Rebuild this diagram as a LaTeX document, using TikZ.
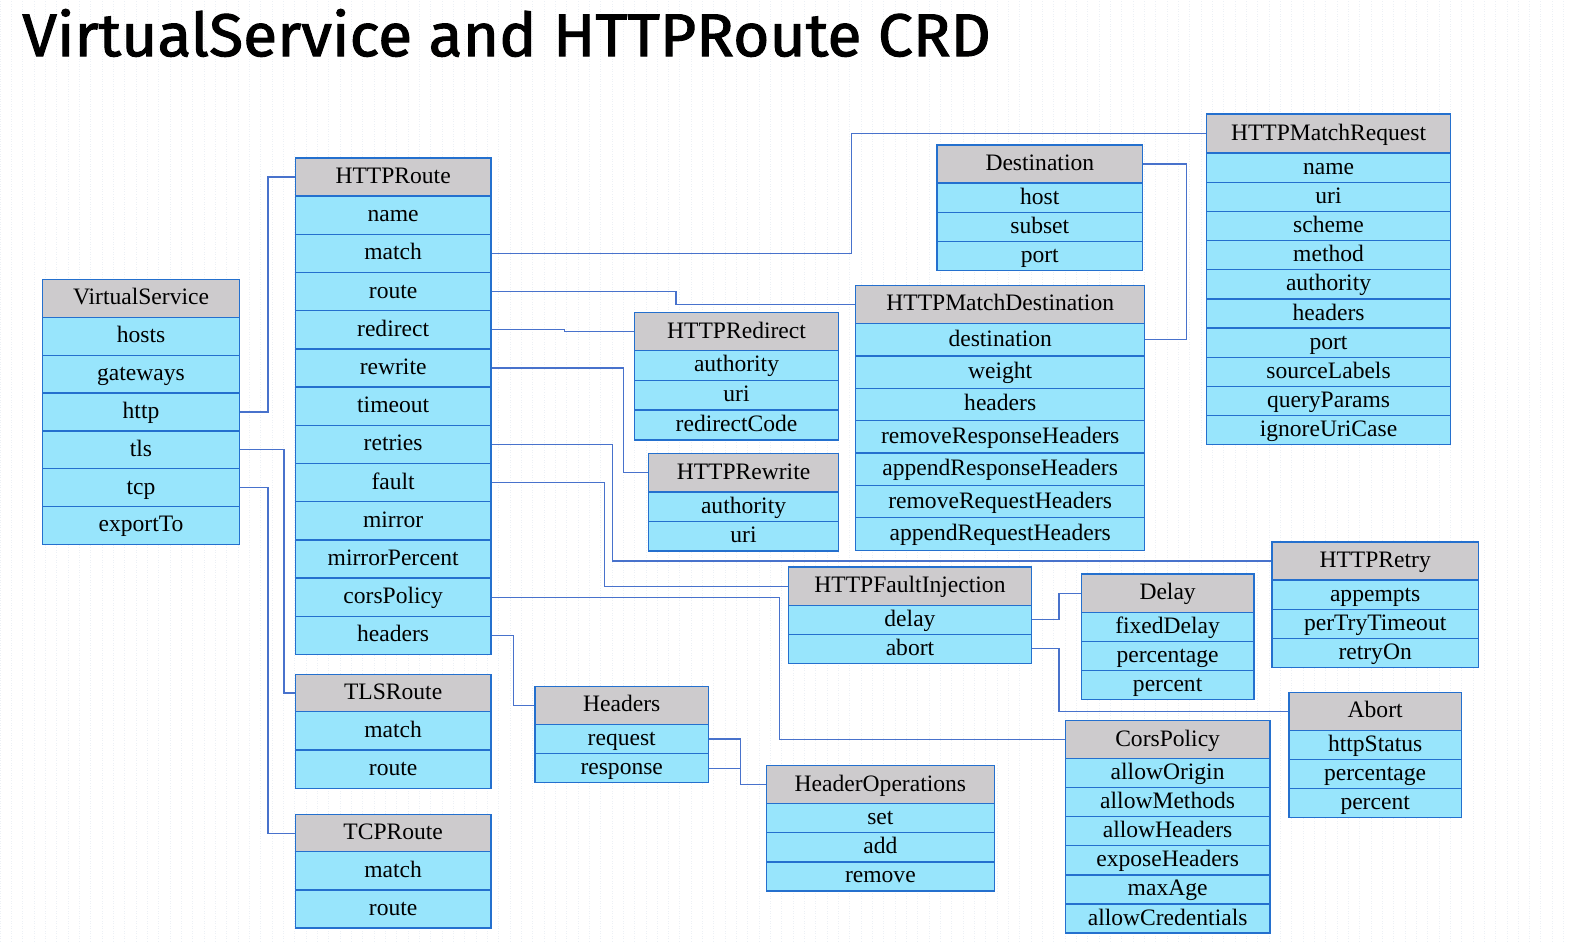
\documentclass[tikz,border=0pt]{standalone}
\usepackage{fontspec}
\setmainfont{Liberation Serif}
\newfontfamily\titlefont[FakeBold=1.6]{Fira Sans}
\usetikzlibrary{calc}
\definecolor{cyanc}{RGB}{152,229,252}
\definecolor{grayc}{RGB}{205,203,205}
\definecolor{bordc}{RGB}{36,112,206}
\definecolor{connc}{RGB}{72,114,204}
\definecolor{gridc}{RGB}{236,240,245}
\tikzset{
  cell/.style={draw=bordc, line width=1.3pt, inner sep=0pt, anchor=north west,
    text height=17pt, text depth=4pt, font=\fontsize{23.5}{24}\selectfont},
  fld/.style={cell, fill=cyanc},
  hdr/.style={cell, fill=grayc},
  conn/.style={draw=connc, line width=1.2pt}
}
% #1 id, #2 x, #3 width, #4 top, #5 header height, #6 row height, #7 header, #8 rows
\newcommand{\crdtable}[8]{%
  \node[hdr, minimum width=#3pt, minimum height=#5pt] (#1-h) at (#2,#4) {#7};
  \foreach \lbl [count=\i] in {#8} {
    \node[fld, minimum width=#3pt, minimum height=#6pt] (#1-\i) at (#2,{#4+#5+(\i-1)*#6}) {\lbl};
  }
}
\begin{document}
\begin{tikzpicture}[x=1pt,y=-1pt]
\useasboundingbox (0,0) rectangle (1568,939);
\fill[white] (0,0) rectangle (1568,939);
\draw[gridc, line width=0.5pt, dotted, step=11.3] (0,0) grid (1568,939);

\node[anchor=base west, inner sep=0pt] (title) at (22,56)
  {\resizebox{966pt}{47pt}{\titlefont VirtualService and HTTPRoute CRD}};

\crdtable{vs}{42}{196}{278}{38}{37.7}{VirtualService}{hosts,gateways,http,tls,tcp,exportTo}
\crdtable{hr}{294}{195}{157}{38}{38.1}{HTTPRoute}{name,match,route,redirect,rewrite,timeout,retries,fault,mirror,mirrorPercent,corsPolicy,headers}
\crdtable{tls}{294}{195}{672}{37}{38.5}{TLSRoute}{match,route}
\crdtable{tcp}{294}{195}{812}{37}{38}{TCPRoute}{match,route}
\crdtable{rd}{632}{204}{311}{38}{29.7}{HTTPRedirect}{authority,uri,redirectCode}
\crdtable{rw}{646}{190}{452}{38}{29.5}{HTTPRewrite}{authority,uri}
\crdtable{de}{934}{205}{144}{38}{29}{Destination}{host,subset,port}
\crdtable{md}{853}{288}{284}{38}{32.3}{HTTPMatchDestination}{destination,weight,headers,removeResponseHeaders,appendResponseHeaders,removeRequestHeaders,appendRequestHeaders}
\crdtable{mr}{1203}{243}{113}{39}{29.1}{HTTPMatchRequest}{name,uri,scheme,method,authority,headers,port,sourceLabels,queryParams,ignoreUriCase}
\crdtable{rt}{1268}{206}{540}{38}{29}{HTTPRetry}{appempts,perTryTimeout,retryOn}
\crdtable{fi}{786}{242}{565}{38}{29}{HTTPFaultInjection}{delay,abort}
\crdtable{dl}{1078}{172}{572}{38}{29}{Delay}{fixedDelay,percentage,percent}
\crdtable{ab}{1285}{172}{690}{38}{29}{Abort}{httpStatus,percentage,percent}
\crdtable{cp}{1062}{204}{718}{38}{29}{CorsPolicy}{allowOrigin,allowMethods,allowHeaders,exposeHeaders,maxAge,allowCredentials}
\crdtable{hd}{533}{173}{684}{38}{29}{Headers}{request,response}
\crdtable{ho}{764}{227}{763}{38}{29}{HeaderOperations}{set,add,remove}

% connectors
\draw[conn] (vs-3.east) -- ++(28,0) |- (hr-h.west);
\draw[conn] (vs-4.east) -- ++(44,0) |- (tls-h.west);
\draw[conn] (vs-5.east) -- ++(28,0) |- (tcp-h.west);
\draw[conn] (hr-2.east) -- ++(359,0) |- (mr-h.west);
\draw[conn] (hr-3.east) -- ++(184,0) |- (md-h.west);
\draw[conn] (hr-4.east) -- ++(73,0) |- (rd-h.west);
\draw[conn] (hr-5.east) -- ++(132,0) |- (rw-h.west);
\draw[conn] (hr-7.east) -- ++(121,0) |- (rt-h.west);
\draw[conn] (hr-8.east) -- ++(113,0) |- (fi-h.west);
\draw[conn] (hr-11.east) -- ++(287,0) |- (cp-h.west);
\draw[conn] (hr-12.east) -- ++(22,0) |- (hd-h.west);
\draw[conn] (hd-1.east) -- ++(31,0) |- (ho-h.west);
\draw[conn] (hd-2.east) -- ++(31,0) |- (ho-h.west);
\draw[conn] (fi-1.east) -- ++(27,0) |- (dl-h.west);
\draw[conn] (fi-2.east) -- ++(27,0) |- (ab-h.west);
\draw[conn] (de-h.east) -- ++(43,0) |- (md-1.east);
\end{tikzpicture}
\end{document}
